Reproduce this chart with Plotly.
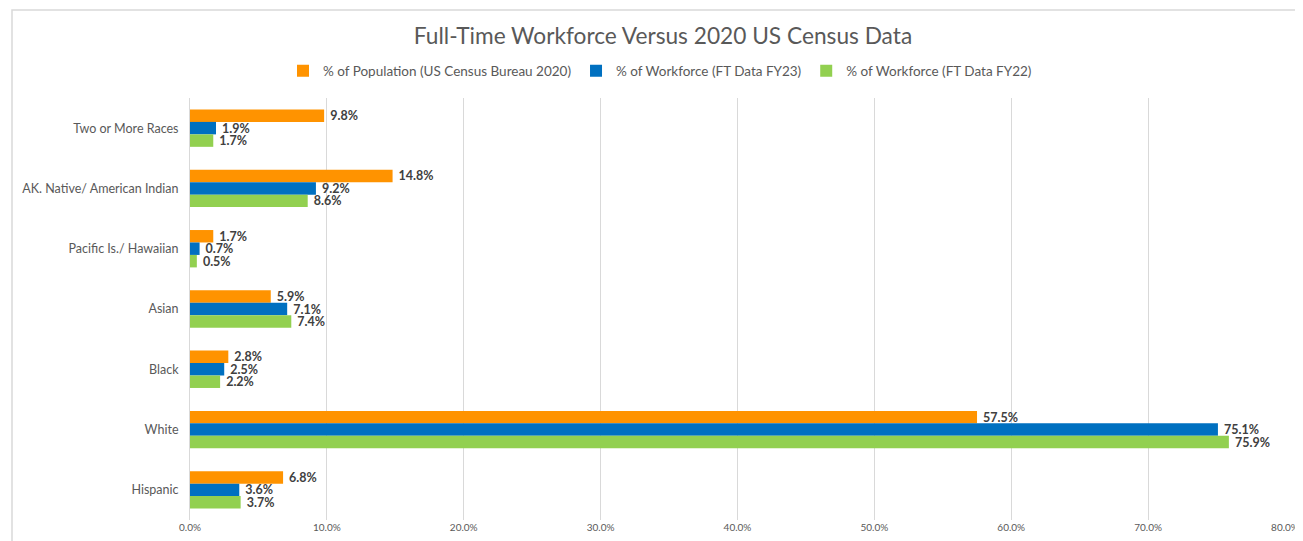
import plotly.graph_objects as go

categories = ["Two or More Races", "AK. Native/ American Indian", "Pacific Is./ Hawaiian",
              "Asian", "Black", "White", "Hispanic"]
pop_2020 = [9.8, 14.8, 1.7, 5.9, 2.8, 57.5, 6.8]
wf_fy23 = [1.9, 9.2, 0.7, 7.1, 2.5, 75.1, 3.6]
wf_fy22 = [1.7, 8.6, 0.5, 7.4, 2.2, 75.9, 3.7]
series_names = ["% of Population (US Census Bureau 2020)",
                "% of Workforce (FT Data FY23)",
                "% of Workforce (FT Data FY22)"]
colors = ["#FF9300", "#0070C0", "#92D050"]
x_ticks = [0, 10, 20, 30, 40, 50, 60, 70, 80]
x_tick_text = [f"{v:.1f}%" for v in x_ticks]

FONT = "Lato"
OFF = 8  # browser body margin
W, H = 1303 - OFF, 541 - OFF
L, R, T, B = 190 - OFF, 18, 98 - OFF, 21

fig = go.Figure()
for i, (name, vals, col) in enumerate(zip(series_names, [pop_2020, wf_fy23, wf_fy22], colors)):
    fig.add_trace(go.Bar(
        y=categories, x=vals, name=name, orientation="h",
        legendgroup=f"g{i}",
        marker=dict(color=col, line=dict(width=0)),
        texttemplate="\u00a0%{x:.1f}%", textposition="outside",
        constraintext="none",
        outsidetextfont=dict(family=FONT, size=12.5, color="#404040", weight="bold"),
        cliponaxis=False,
    ))

pw = W - L - R
ph = H - T - B
fig.update_layout(
    width=W, height=H,
    margin=dict(l=L, r=R, t=T, b=B, autoexpand=False),
    paper_bgcolor="white", plot_bgcolor="white",
    barmode="group", bargap=0.38, bargroupgap=0,
    font=dict(family=FONT, color="#595959"),
    title=dict(text="Full-Time Workforce Versus 2020 US Census Data",
               x=(663 - OFF) / W, xanchor="center", y=1 - (36 - OFF) / H, yanchor="middle",
               font=dict(family=FONT, size=22.7, color="#595959")),
    legend=dict(orientation="h", x=(660 - OFF - L) / pw, xanchor="center",
                y=1 + (T - (71 - OFF)) / ph, yanchor="middle",
                font=dict(family=FONT, size=13.5, color="#595959"),
                itemwidth=30, traceorder="grouped", tracegroupgap=22),
    xaxis=dict(range=[0, 80], tickmode="array", tickvals=x_ticks, ticktext=x_tick_text,
               showgrid=True, gridcolor="#d9d9d9", gridwidth=1,
               zeroline=False, showline=False, automargin=False,
               tickfont=dict(family=FONT, size=10, color="#595959")),
    yaxis=dict(autorange="reversed", showgrid=False, zeroline=False,
               showline=True, linecolor="#d9d9d9", linewidth=1,
               ticklabelstandoff=8, automargin=False,
               tickfont=dict(family=FONT, size=12.5, color="#595959")),
    shapes=[dict(type="rect", xref="paper", yref="paper",
                 x0=(12 - OFF - L) / pw, x1=(1330 - OFF - L) / pw,
                 y0=-(B + 10) / ph, y1=1 + (T - (10 - OFF)) / ph,
                 line=dict(color="#d9d9d9", width=1.5), layer="below")],
)

fig.write_html("out.html")
